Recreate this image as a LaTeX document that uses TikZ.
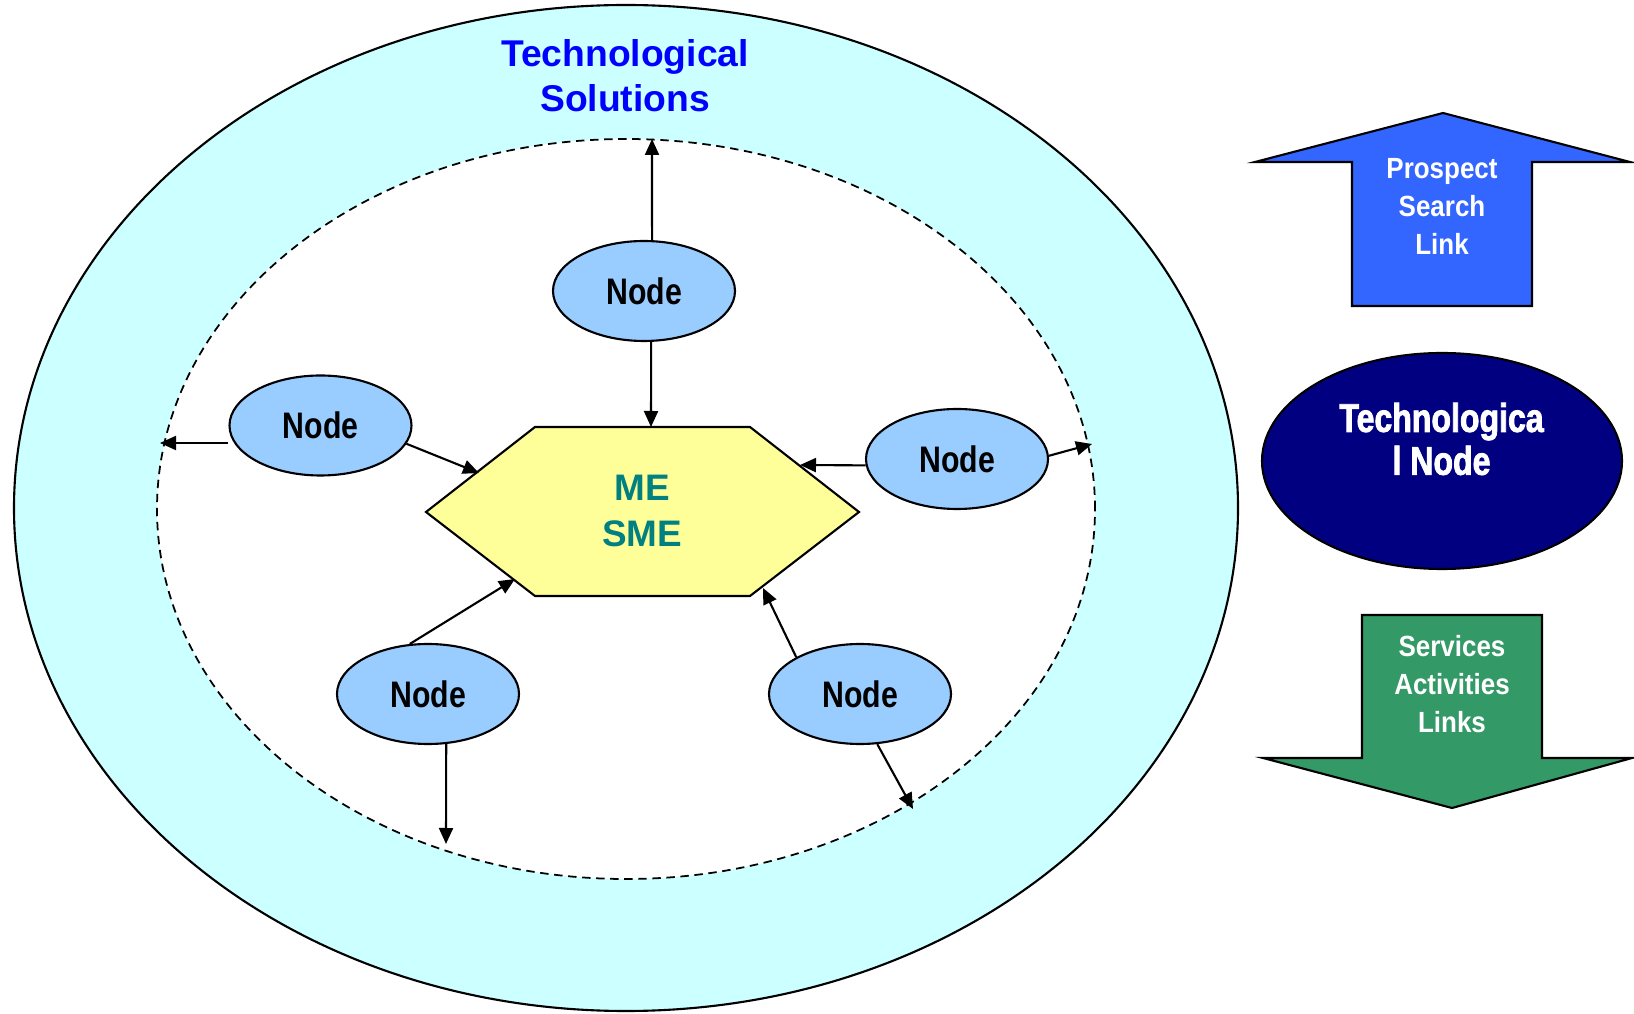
\documentclass[tikz,border=0pt]{standalone}
\usepackage{fontspec}
\setmainfont{Liberation Sans}
\newfontfamily\narrowfont[FakeStretch=0.82]{Liberation Sans}
\newfontfamily\arrowfont[FakeStretch=0.89]{Liberation Sans}
\newfontfamily\heavyfont[FakeStretch=0.80,FakeBold=2]{Liberation Sans}
\usetikzlibrary{arrows.meta,shapes.geometric}
\definecolor{ringcyan}{HTML}{CCFFFF}
\definecolor{nodeblue}{HTML}{99CCFF}
\definecolor{hexyellow}{HTML}{FFFF99}
\definecolor{smeteal}{HTML}{008080}
\definecolor{navynode}{HTML}{000080}
\definecolor{linkblue}{HTML}{3366FF}
\definecolor{servgreen}{HTML}{339966}

\begin{document}
\begin{tikzpicture}[> = {Triangle[length=1.6mm,width=1.4mm]}, line width=0.6pt,
    member/.style={ellipse,draw,fill=nodeblue,minimum width=1.82cm,minimum height=1cm,inner sep=0pt,
        font=\narrowfont\bfseries\fontsize{10.5}{12}\selectfont},
    boxtext/.style={align=center,inner sep=0pt}]
            \useasboundingbox (0,0) rectangle (16.34,10.13);
            \draw[fill=ringcyan] (6.26,5.05) ellipse [x radius=6.12, y radius=5.03];
            \draw[fill=white,line width=0.5pt,dash pattern=on 2.4pt off 1.6pt] (6.26,5.04) ellipse [x radius=4.69, y radius=3.70];
            \node[boxtext,text=blue,font=\bfseries\fontsize{10.6}{12.8}\selectfont] (title) at (6.25,9.37) {Technological\\Solutions};

            % centre
            \draw[fill=hexyellow] (4.26,5.01) -- (5.35,5.86) -- (7.50,5.86) -- (8.59,5.01) -- (7.50,4.17) -- (5.35,4.17) -- cycle;
            \node[boxtext,text=smeteal,font=\bfseries\fontsize{10.5}{13.1}\selectfont] (sme) at (6.42,5.02) {ME\\SME};
            \coordinate (hexN) at (6.51,5.86);
            \coordinate (hexNW) at (4.79,5.40);
            \coordinate (hexNE) at (8.00,5.48);
            \coordinate (hexSW) at (5.15,4.34);
            \coordinate (hexSE) at (7.63,4.25);

            \node[member] (top) at (6.44,7.22) {Node};
            \node[member] (left) at (3.205,5.875) {Node};
            \node[member] (right) at (9.57,5.54) {Node};
            \node[member] (lowleft) at (4.28,3.19) {Node};
            \node[member] (lowright) at (8.60,3.19) {Node};

            \coordinate (rimN) at (6.52,8.74);
            \coordinate (rimW) at (1.60,5.70);
            \coordinate (rimE) at (10.92,5.69);
            \coordinate (rimSW) at (4.46,1.69);
            \coordinate (rimSE) at (9.13,2.04);

            \draw[->] (top.81) -- (rimN);
            \draw[->] (top.-82) -- (hexN);
            \draw[->] (left.west|-rimW) -- (rimW);
            \draw[->] (left.-12) -- (hexNW);
            \draw[->] (right.184) -- (hexNE);
            \draw[->] (right.2) -- (rimE);
            \draw[->] (lowleft.110) -- (hexSW);
            \draw[->] (lowleft.-70) -- (rimSW);
            \draw[->] (lowright.150) -- (hexSE);
            \draw[->] (lowright.-71) -- (rimSE);

            % legend
            \draw[fill=linkblue] (14.43,9.00) -- (16.30,8.51) -- (15.32,8.51) -- (15.32,7.07) -- (13.52,7.07) -- (13.52,8.51) -- (12.55,8.51) -- cycle;
            \node[boxtext,text=white,font=\arrowfont\bfseries\fontsize{8.3}{10.8}\selectfont] (prospect) at (14.42,8.065) {Prospect\\Search\\Link};
            \node[ellipse,draw,fill=navynode,minimum width=3.6cm,minimum height=2.16cm,inner sep=0pt] (technode) at (14.42,5.52) {};
            \node[boxtext,text=white,font=\heavyfont\bfseries\fontsize{11.4}{12.2}\selectfont] (techlabel) at (14.415,5.74) {Technologica\\l Node};
            \draw[fill=servgreen] (13.62,3.98) -- (15.42,3.98) -- (15.42,2.55) -- (16.32,2.55) -- (14.52,2.05) -- (12.63,2.55) -- (13.62,2.55) -- cycle;
            \node[boxtext,text=white,font=\arrowfont\bfseries\fontsize{8.3}{10.8}\selectfont] (services) at (14.52,3.29) {Services\\Activities\\Links};
        \end{tikzpicture}
\end{document}
